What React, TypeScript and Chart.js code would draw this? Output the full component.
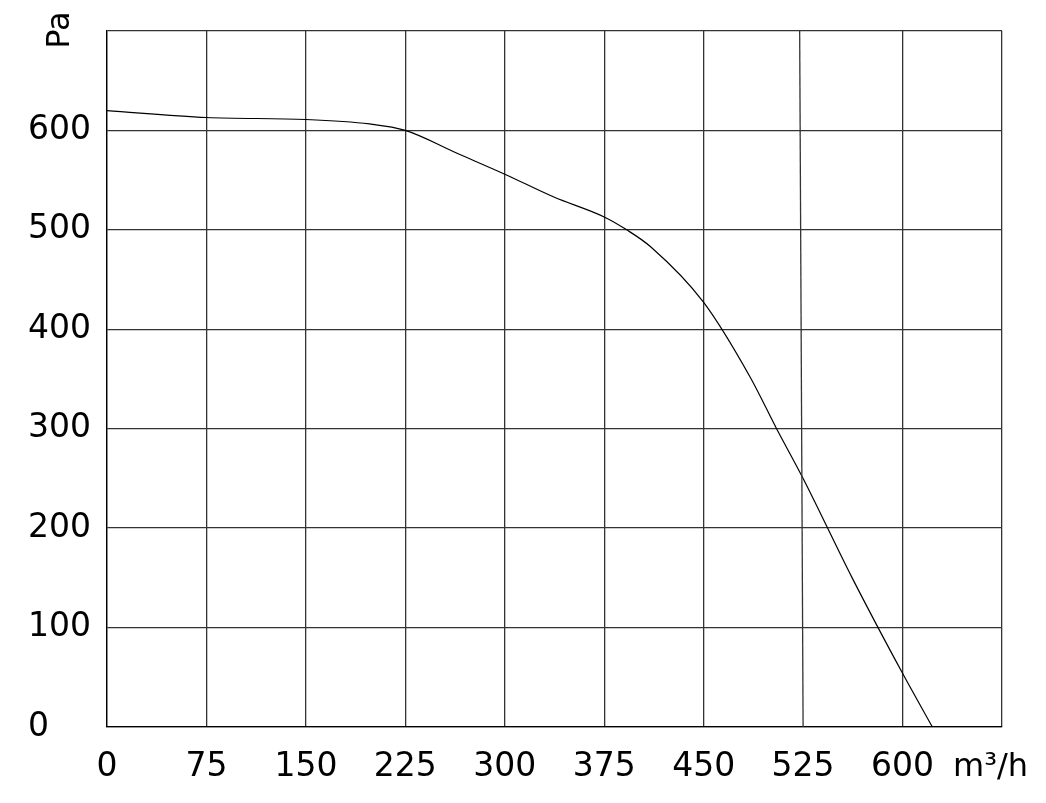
import React, { useEffect, useRef } from "react";
import { Chart, registerables } from "chart.js";

Chart.register(...registerables);

// Fan curve: air flow (m³/h) vs static pressure (Pa)
const flowRates = [0, 75, 150, 198, 225, 264, 300, 337, 375, 392, 410, 450, 485, 505, 525, 562, 600, 622.5];
const pressures = [620, 613, 611, 606.5, 600, 577, 556, 533, 513, 500, 483, 427, 352, 300, 250, 150, 54, 0];

const xTicks = [0, 75, 150, 225, 300, 375, 450, 525, 600, 675];
const xTickLabels = ["0", "75", "150", "225", "300", "375", "450", "525", "600", ""];
const yTicks = [0, 100, 200, 300, 400, 500, 600, 700];
const yTickLabels = ["0", "100", "200", "300", "400", "500", "600", ""];

const FONT = '"DejaVu Sans", Verdana, sans-serif';

// axis unit captions + the slightly skewed 525 line of the original drawing
const extrasPlugin = {
  id: "extras",
  afterDraw(chart: any) {
    const { ctx, chartArea, scales } = chart;
    const x = scales.x;
    ctx.save();
    ctx.strokeStyle = "#333";
    ctx.lineWidth = 1.3;
    ctx.beginPath();
    ctx.moveTo(x.getPixelForValue(522.4), chartArea.top);
    ctx.lineTo(x.getPixelForValue(525), chartArea.bottom);
    ctx.stroke();

    ctx.fillStyle = "#000";
    ctx.font = `32px ${FONT}`;
    ctx.textAlign = "left";
    ctx.textBaseline = "alphabetic";
    ctx.fillText("m³/h", 953, 776);

    ctx.translate(61, 30);
    ctx.rotate(-Math.PI / 2);
    ctx.textAlign = "center";
    ctx.textBaseline = "middle";
    ctx.fillText("Pa", 0, 0);
    ctx.restore();
  },
};

const FanCurveChart: React.FC = () => {
  const canvasRef = useRef<HTMLCanvasElement>(null);
  const chartRef = useRef<Chart | null>(null);

  useEffect(() => {
    document.body.style.margin = "0";
    if (!canvasRef.current) return;
    if (chartRef.current) chartRef.current.destroy();

    const points = flowRates.map((f, i) => ({ x: f, y: pressures[i] }));

    chartRef.current = new Chart(canvasRef.current, {
      type: "line",
      data: {
        datasets: [
          {
            data: points,
            borderColor: "#000",
            borderWidth: 1.2,
            pointRadius: 0,
            cubicInterpolationMode: "monotone",
            fill: false,
          },
        ],
      },
      options: {
        animation: false,
        responsive: true,
        maintainAspectRatio: false,
        layout: { padding: { left: 28, right: 44, top: 31, bottom: 0 } },
        plugins: { legend: { display: false }, tooltip: { enabled: false } },
        scales: {
          x: {
            type: "linear",
            min: 0,
            max: 675,
            afterBuildTicks: (scale: any) => {
              scale.ticks = xTicks.map((v) => ({ value: v }));
            },
            afterFit: (scale: any) => {
              scale.height = 76;
            },
            grid: {
              color: (c: any) => (c.tick && c.tick.value === 525 ? "rgba(0,0,0,0)" : "#333"),
              lineWidth: 1.3,
              drawTicks: false,
            },
            border: { display: true, color: "#000", width: 1.3 },
            ticks: {
              autoSkip: false,
              maxRotation: 0,
              padding: 21,
              color: "#000",
              font: { family: FONT, size: 33 },
              callback: (v: any) => xTickLabels[xTicks.indexOf(Number(v))] ?? "",
            },
          },
          y: {
            type: "linear",
            min: 0,
            max: 700,
            afterBuildTicks: (scale: any) => {
              scale.ticks = yTicks.map((v) => ({ value: v }));
            },
            afterFit: (scale: any) => {
              scale.width = 79;
            },
            grid: { color: "#333", lineWidth: 1.3, drawTicks: false },
            border: { display: true, color: "#000", width: 1.3 },
            ticks: {
              crossAlign: "far",
              padding: 0,
              color: "#000",
              font: { family: FONT, size: 33 },
              callback: (v: any) => yTickLabels[yTicks.indexOf(Number(v))] ?? "",
            },
          },
        },
      },
      plugins: [extrasPlugin],
    });

    return () => {
      if (chartRef.current) {
        chartRef.current.destroy();
        chartRef.current = null;
      }
    };
  }, []);

  return (
    <div style={{ position: "relative", width: 1046, height: 803, background: "#fff" }}>
      <canvas ref={canvasRef} />
    </div>
  );
};

export default function App() {
  return <FanCurveChart />;
}
